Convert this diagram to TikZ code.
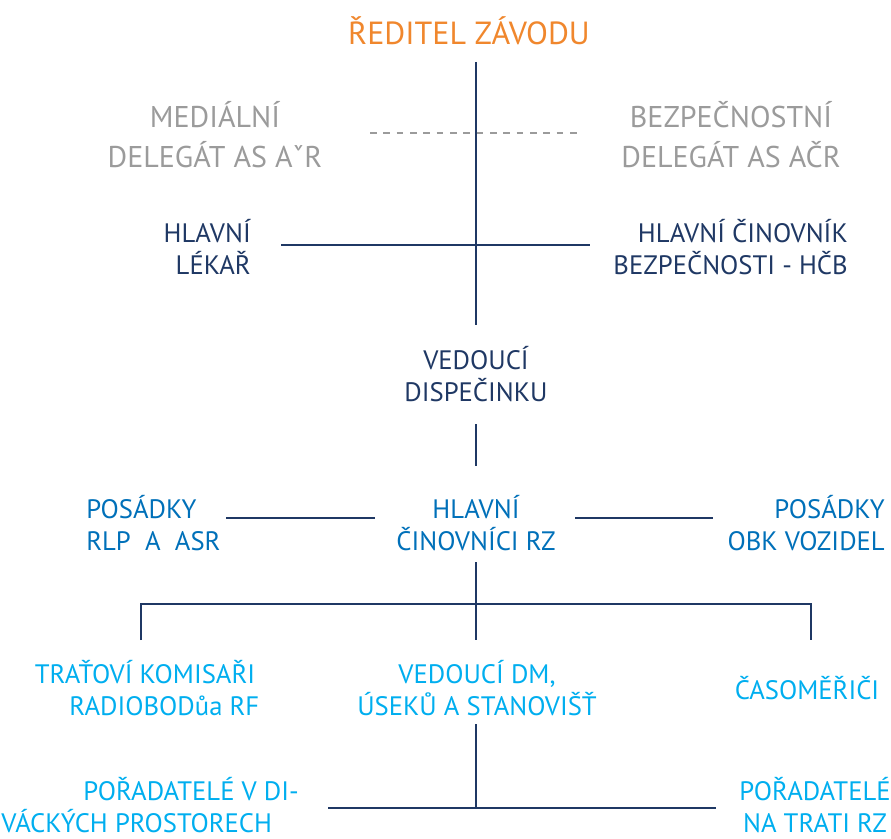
\documentclass[tikz,border=0pt]{standalone}
\usepackage{fontspec}
\setmainfont{PT Sans}
\definecolor{orangetitle}{RGB}{240,135,45}
\definecolor{graydeleg}{RGB}{155,155,155}
\definecolor{navy}{RGB}{31,56,100}
\definecolor{midblue}{RGB}{0,112,185}
\definecolor{cyanblue}{RGB}{0,174,239}
\tikzset{
  txt/.style={inner sep=0.75pt, align=center, font=\fontsize{20}{24.5}\selectfont},
  orgline/.style={draw=navy, line width=0.8pt},
}
\begin{document}
\begin{tikzpicture}[x=0.75pt,y=0.75pt,yscale=-1,xscale=1]
        \useasboundingbox (0,0) rectangle (891,838);

        % Text Node
        \node [txt, text=orangetitle, font=\fontsize{24}{28}\selectfont] (reditel) at (469,31) {ŘEDITEL ZÁVODU};
        \node [txt, text=graydeleg, font=\fontsize{22.5}{30}\selectfont] (medialni) at (215,135) {MEDIÁLNÍ\\DELEGÁT AS AˇR};
        \node [txt, text=graydeleg, font=\fontsize{22.5}{30}\selectfont] (bezpecnostni) at (731,135) {BEZPEČNOSTNÍ\\DELEGÁT AS AČR};
        \node [txt, text=navy, align=right, anchor=east] (lekar) at (252,247) {HLAVNÍ\\LÉKAŘ};
        \node [txt, text=navy, align=right, anchor=east] (hcb) at (849,247) {HLAVNÍ ČINOVNÍK\\BEZPEČNOSTI - HČB};
        \node [txt, text=navy] (dispecink) at (476,374) {VEDOUCÍ\\DISPEČINKU};
        \node [txt, text=midblue] (cinovnici) at (476,523) {HLAVNÍ\\ČINOVNÍCI RZ};
        \node [txt, text=midblue, align=left, anchor=west] (posadkyrlp) at (85,523) {POSÁDKY\\RLP\ \ A\ \ ASR};
        \node [txt, text=midblue, align=right, anchor=east] (posadkyobk) at (886,523) {POSÁDKY\\OBK VOZIDEL};
        \node [txt, text=cyanblue] (komisari) at (145,688) {TRAŤOVÍ KOMISAŘI\\\hspace*{29pt}RADIOBODůa RF};
        \node [txt, text=cyanblue] (useky) at (477,688) {VEDOUCÍ DM,\\ÚSEKŮ A STANOVIŠŤ};
        \node [txt, text=cyanblue] (casomerici) at (807,688) {ČASOMĚŘIČI};
        \node [txt, text=cyanblue, align=right, anchor=east] (divaci) at (300,805) {POŘADATELÉ V DI-\\VÁCKÝCH PROSTORECH\hspace*{20pt}};
        \node [txt, text=cyanblue] (trat) at (815,805) {POŘADATELÉ\\NA TRATI RZ};

        % Straight Lines
        \coordinate (top) at (476,62);
        \coordinate (cross) at (476,325);
        \draw [orgline] (top) -- (cross);
        \draw [draw=graydeleg, line width=0.8pt, dash pattern=on 5pt off 5pt] (370,133) -- (580,133);
        \draw [orgline] (281,245) -- (590,245);
        \draw [orgline] (476,424) -- (476,466);
        \draw [orgline] (226,518) -- (375,518);
        \draw [orgline] (575,518) -- (713,518);
        \draw [orgline] (476,562) -- (476,640);
        \draw [orgline] (141,640) -- (141,604) -- (811,604) -- (811,640);
        \draw [orgline] (476,724) -- (476,808);
        \draw [orgline] (328,808) -- (716,808);
\end{tikzpicture}
\end{document}
